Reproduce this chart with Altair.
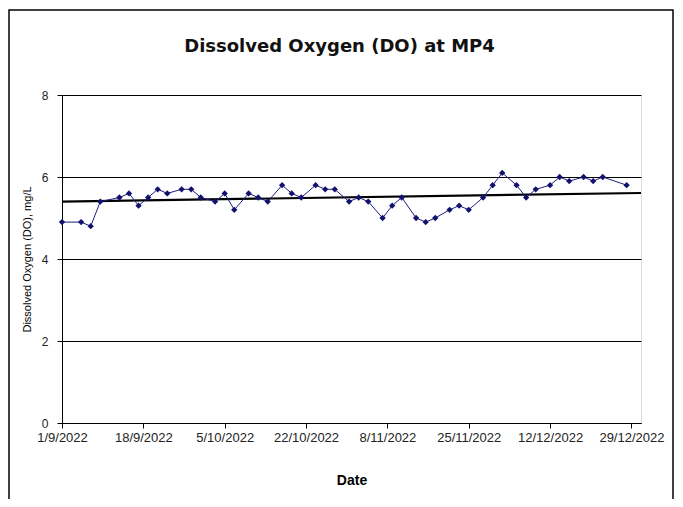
import altair as alt
import pandas as pd

dates = ["2022-09-01", "2022-09-05", "2022-09-07", "2022-09-09", "2022-09-13", "2022-09-15",
         "2022-09-17", "2022-09-19", "2022-09-21", "2022-09-23", "2022-09-26", "2022-09-28",
         "2022-09-30", "2022-10-03", "2022-10-05", "2022-10-07", "2022-10-10", "2022-10-12",
         "2022-10-14", "2022-10-17", "2022-10-19", "2022-10-21", "2022-10-24", "2022-10-26",
         "2022-10-28", "2022-10-31", "2022-11-02", "2022-11-04", "2022-11-07", "2022-11-09",
         "2022-11-11", "2022-11-14", "2022-11-16", "2022-11-18", "2022-11-21", "2022-11-23",
         "2022-11-25", "2022-11-28", "2022-11-30", "2022-12-02", "2022-12-05", "2022-12-07",
         "2022-12-09", "2022-12-12", "2022-12-14", "2022-12-16", "2022-12-19", "2022-12-21",
         "2022-12-23", "2022-12-28"]
do_mgL = [4.9, 4.9, 4.8, 5.4, 5.5, 5.6,
          5.3, 5.5, 5.7, 5.6, 5.7, 5.7,
          5.5, 5.4, 5.6, 5.2, 5.6, 5.5,
          5.4, 5.8, 5.6, 5.5, 5.8, 5.7,
          5.7, 5.4, 5.5, 5.4, 5.0, 5.3,
          5.5, 5.0, 4.9, 5.0, 5.2, 5.3,
          5.2, 5.5, 5.8, 6.1, 5.8, 5.5,
          5.7, 5.8, 6.0, 5.9, 6.0, 5.9,
          6.0, 5.8]

# linear trend line as drawn in the reference (end points)
trend_dates = ["2022-09-01", "2022-12-31"]
trend_vals = [5.40, 5.61]

tick_dates = ["2022-09-01", "2022-09-18", "2022-10-05", "2022-10-22",
              "2022-11-08", "2022-11-25", "2022-12-12", "2022-12-29"]
y_ticks = [0, 2, 4, 6, 8]
x_start, x_end = "2022-09-01", "2022-12-31"


def ms(d):
    return int(pd.Timestamp(d, tz="UTC").timestamp() * 1000)


df = pd.DataFrame({"date": dates, "do": do_mgL})
df_trend = pd.DataFrame({"date": trend_dates, "do": trend_vals})

xscale = alt.Scale(type="utc", domain=[ms(x_start), ms(x_end)])
yscale = alt.Scale(domain=[0, 8])

xaxis = alt.Axis(
    values=[ms(d) for d in tick_dates],
    labelExpr="utcFormat(datum.value, '%-d/%-m/%Y')",
    title="Date", titleFontWeight="bold", titleFontSize=14, titlePadding=29,
    labelFontSize=13, labelPadding=3, tickSize=5, grid=False,
    labelFlush=False, labelOverlap=False,
    domainColor="black", tickColor="black", labelColor="#222",
)
yaxis = alt.Axis(
    values=y_ticks, title="Dissolved Oxygen (DO), mg/L",
    titleFontWeight="normal", titleFontSize=11, titlePadding=9,
    labelFontSize=12, labelPadding=9, tickSize=5,
    grid=True, gridColor="black", gridWidth=1,
    domainColor="black", tickColor="black", labelColor="#222",
)

base = alt.Chart(df)

line = base.mark_line(color="#1e1e7e", strokeWidth=1).encode(
    x=alt.X("date:T", scale=xscale, axis=xaxis),
    y=alt.Y("do:Q", scale=yscale, axis=yaxis),
)
points = base.mark_point(shape="diamond", filled=True, size=40, color="#12126e", opacity=1).encode(
    x=alt.X("date:T", scale=xscale),
    y=alt.Y("do:Q", scale=yscale),
)
trend = alt.Chart(df_trend).mark_line(color="black", strokeWidth=2.2).encode(
    x=alt.X("date:T", scale=xscale),
    y=alt.Y("do:Q", scale=yscale),
)

frame = alt.Chart(alt.Data(values=[{}])).mark_rect(
    filled=False, stroke="black", strokeWidth=1.5, clip=False
).encode(
    x=alt.value(-53), x2=alt.value(611), y=alt.value(-85), y2=alt.value(420)
)

chart = alt.layer(frame, trend, line, points).properties(
    width=579, height=328,
    title=alt.TitleParams("Dissolved Oxygen (DO) at MP4", font="DejaVu Sans",
                          fontSize=18, fontWeight="bold", color="#111",
                          anchor="middle", dx=-12, dy=65, baseline="alphabetic"),
    autosize=alt.AutoSizeParams(type="none"),
    padding={"left": 54, "top": 87, "right": 34, "bottom": 76},
).configure_view(
    stroke="#808080", strokeWidth=1.5
).configure_axis(
    labelFont="Liberation Sans", titleFont="Liberation Sans"
).configure(background="white")

chart.save("out.html", embed_options={"renderer": "svg", "actions": False})
